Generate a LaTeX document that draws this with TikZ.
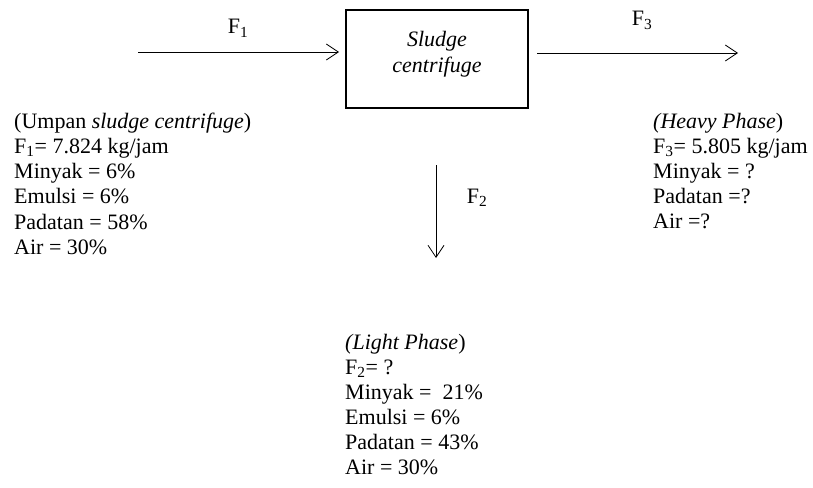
\documentclass[tikz,border=0pt]{standalone}
\usepackage{fontspec}
\setmainfont{Liberation Serif}
\usetikzlibrary{arrows.meta}
\tikzset{
  txt/.style={anchor=base west, inner sep=0pt, font=\fontsize{22}{25}\selectfont},
  lbl/.style={anchor=base, inner sep=0pt, font=\fontsize{22}{25}\selectfont},
  flow/.style={line width=0.8pt, -{Straight Barb[length=12pt,width=16pt,line width=0.8pt]}},
  unit/.style={draw, line width=1.6pt, minimum width=182pt, minimum height=98pt, inner sep=0pt}
}
\begin{document}
\begin{tikzpicture}[x=1pt,y=-1pt]
\useasboundingbox (0,0) rectangle (813,487);
% unit
\node[unit] (box) at (437,59) {};
\node[lbl] (bx1) at (437,47) {\textit{Sludge}};
\node[lbl] (bx2) at (437,73) {\textit{centrifuge}};
% stream coordinates
\coordinate (f1s) at (138,52);
\coordinate (f1e) at (339,52);
\coordinate (f3s) at (537,53);
\coordinate (f3e) at (738,53);
\coordinate (f2s) at (436,165);
\coordinate (f2e) at (436,258);
\draw[flow] (f1s) -- (f1e);
\draw[flow] (f3s) -- (f3e);
\draw[flow] (f2s) -- (f2e);
\node[lbl] (lf1) at (238,34) {F\textsubscript{1}};
\node[lbl] (lf3) at (642,26) {F\textsubscript{3}};
\node[lbl] (lf2) at (477,203) {F\textsubscript{2}};
% feed
\node[txt] (a1) at (14,128) {(Umpan \textit{sludge centrifuge})};
\node[txt] (a2) at (14,153) {F\textsubscript{1}= 7.824 kg/jam};
\node[txt] (a3) at (14,178) {Minyak = 6\%};
\node[txt] (a4) at (14,203) {Emulsi = 6\%};
\node[txt] (a5) at (14,229) {Padatan = 58\%};
\node[txt] (a6) at (14,254) {Air = 30\%};
% heavy phase
\node[txt] (h1) at (653,128) {\textit{(Heavy Phase})};
\node[txt] (h2) at (653,153) {F\textsubscript{3}= 5.805 kg/jam};
\node[txt] (h3) at (653,178) {Minyak = ?};
\node[txt] (h4) at (653,203) {Padatan =?};
\node[txt] (h5) at (653,228) {Air =?};
% light phase
\node[txt] (l1) at (345,349) {\textit{(Light Phase})};
\node[txt] (l2) at (345,374) {F\textsubscript{2}= ?};
\node[txt] (l3) at (345,399) {Minyak =\ \ 21\%};
\node[txt] (l4) at (345,424) {Emulsi = 6\%};
\node[txt] (l5) at (345,449) {Padatan = 43\%};
\node[txt] (l6) at (345,474) {Air = 30\%};
\end{tikzpicture}
\end{document}
